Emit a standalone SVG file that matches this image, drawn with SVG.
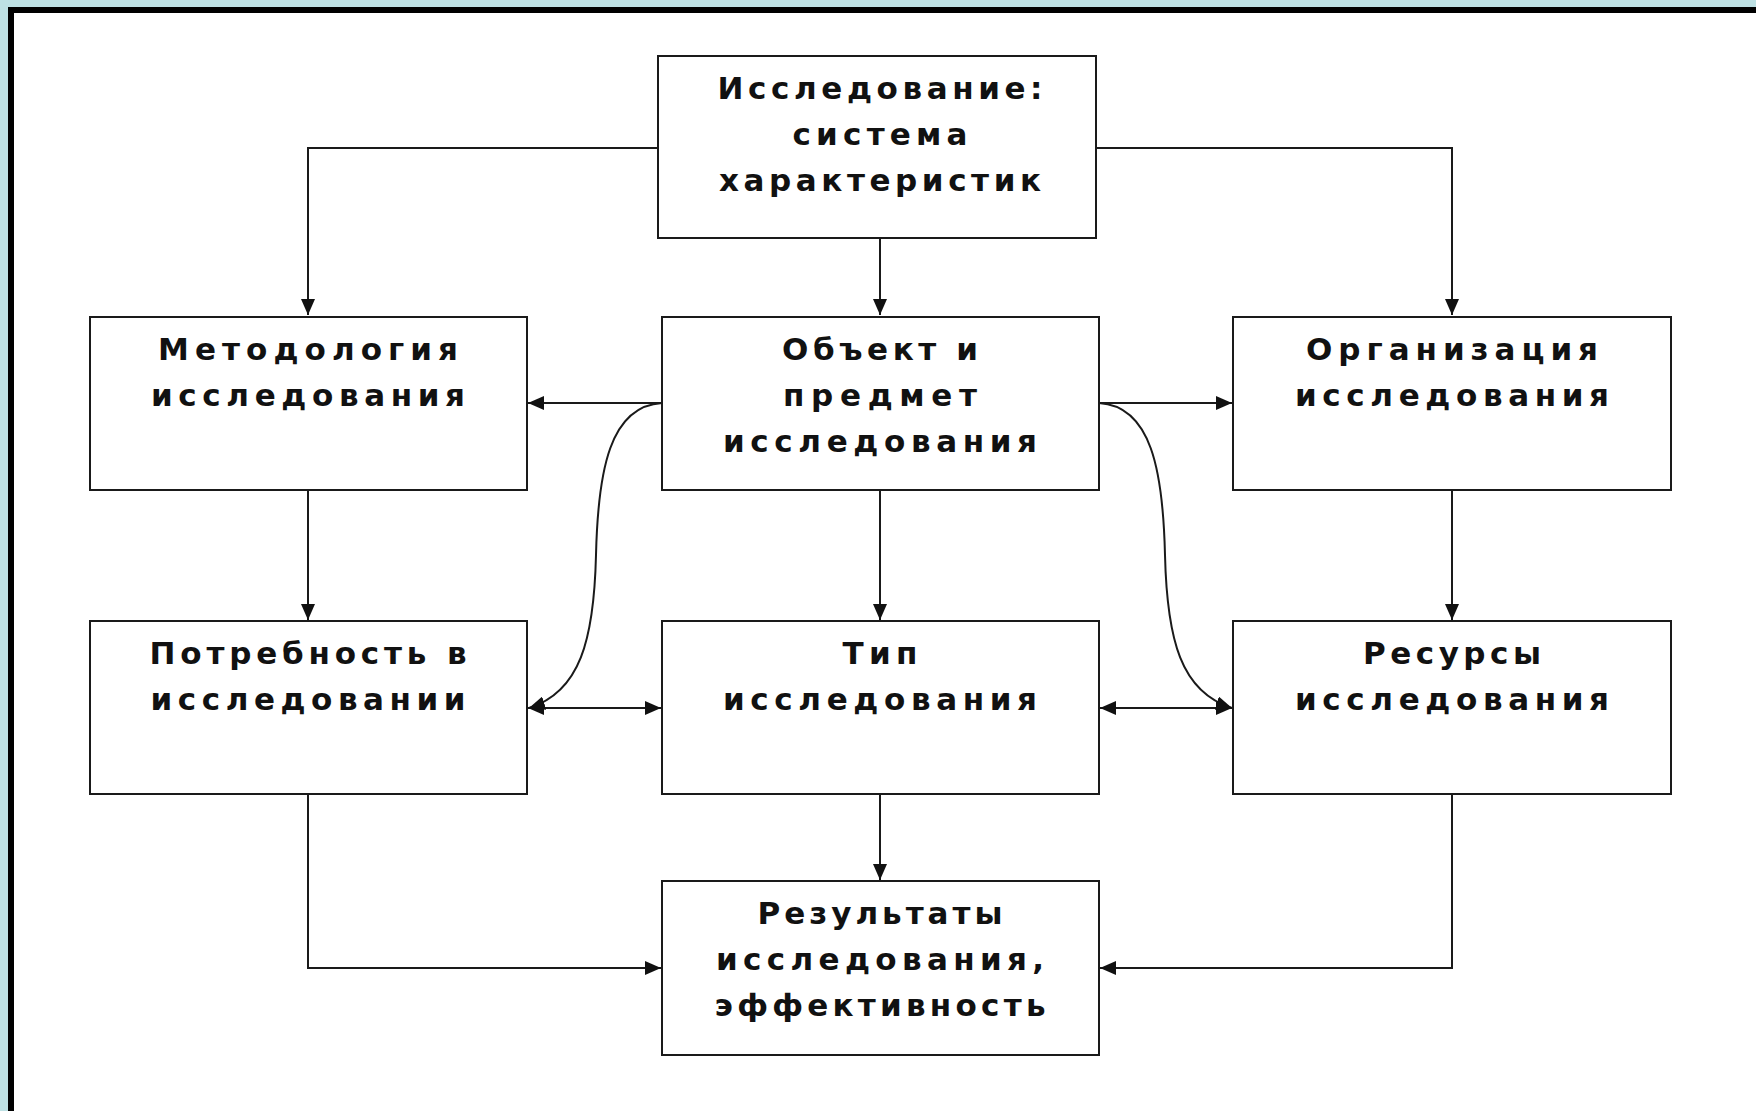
<svg xmlns="http://www.w3.org/2000/svg" width="1756" height="1111" viewBox="0 0 1756 1111">
<style>
.box{fill:#ffffff;stroke:#1a1a1a;stroke-width:2}
.lbl{font-family:"DejaVu Sans","Liberation Sans",sans-serif;font-weight:bold;font-size:31px;fill:#111;text-anchor:middle}
.con{fill:none;stroke:#1a1a1a;stroke-width:2}
</style>
<defs>
<marker id="ah" markerUnits="userSpaceOnUse" markerWidth="16" markerHeight="14" refX="16" refY="7" orient="auto-start-reverse">
<path d="M0,0 L16,7 L0,14 z" fill="#111"/>
</marker>
</defs>
<rect x="0" y="0" width="1756" height="1111" fill="#bde0e3"/>
<rect x="8" y="7" width="1748" height="1104" fill="#000"/>
<rect x="14" y="13" width="1742" height="1098" fill="#fff"/>

<g id="connectors">
<path class="con" d="M658,148 H308 V315" marker-end="url(#ah)"/>
<path class="con" d="M1096,148 H1452 V315" marker-end="url(#ah)"/>
<path class="con" d="M880,238 V315" marker-end="url(#ah)"/>
<path class="con" d="M662,403 H528" marker-end="url(#ah)"/>
<path class="con" d="M1099,403 H1232" marker-end="url(#ah)"/>
<path class="con" d="M880,490 V620" marker-end="url(#ah)"/>
<path class="con" d="M308,490 V620" marker-end="url(#ah)"/>
<path class="con" d="M1452,490 V620" marker-end="url(#ah)"/>
<path class="con" d="M528,708 H661" marker-start="url(#ah)" marker-end="url(#ah)"/>
<path class="con" d="M1100,708 H1232" marker-start="url(#ah)" marker-end="url(#ah)"/>
<path class="con" d="M662,403 C610,406 598,470 596,555 C594,640 580,692 529,708" marker-end="url(#ah)"/>
<path class="con" d="M1099,403 C1151,406 1163,470 1165,555 C1167,640 1181,692 1232,708" marker-end="url(#ah)"/>
<path class="con" d="M880,794 V880" marker-end="url(#ah)"/>
<path class="con" d="M308,794 V968 H661" marker-end="url(#ah)"/>
<path class="con" d="M1452,794 V968 H1100" marker-end="url(#ah)"/>
</g>

<g id="node-top">
<rect class="box" x="658" y="56" width="438" height="182"/>
<text class="lbl" x="880" y="99" textLength="325" lengthAdjust="spacing">Исследование:</text>
<text class="lbl" x="880" y="145" textLength="175" lengthAdjust="spacing">система</text>
<text class="lbl" x="880" y="191" textLength="322" lengthAdjust="spacing">характеристик</text>
</g>

<g id="node-method">
<rect class="box" x="90" y="317" width="437" height="173"/>
<text class="lbl" x="308" y="360" textLength="300" lengthAdjust="spacing">Методология</text>
<text class="lbl" x="308" y="406" textLength="314" lengthAdjust="spacing">исследования</text>
</g>

<g id="node-object">
<rect class="box" x="662" y="317" width="437" height="173"/>
<text class="lbl" x="880" y="360" textLength="196" lengthAdjust="spacing">Объект и</text>
<text class="lbl" x="880" y="406" textLength="194" lengthAdjust="spacing">предмет</text>
<text class="lbl" x="880" y="452" textLength="314" lengthAdjust="spacing">исследования</text>
</g>

<g id="node-org">
<rect class="box" x="1233" y="317" width="438" height="173"/>
<text class="lbl" x="1452" y="360" textLength="292" lengthAdjust="spacing">Организация</text>
<text class="lbl" x="1452" y="406" textLength="314" lengthAdjust="spacing">исследования</text>
</g>

<g id="node-need">
<rect class="box" x="90" y="621" width="437" height="173"/>
<text class="lbl" x="308" y="664" textLength="317" lengthAdjust="spacing">Потребность в</text>
<text class="lbl" x="308" y="710" textLength="315" lengthAdjust="spacing">исследовании</text>
</g>

<g id="node-type">
<rect class="box" x="662" y="621" width="437" height="173"/>
<text class="lbl" x="880" y="664" textLength="75" lengthAdjust="spacing">Тип</text>
<text class="lbl" x="880" y="710" textLength="314" lengthAdjust="spacing">исследования</text>
</g>

<g id="node-resources">
<rect class="box" x="1233" y="621" width="438" height="173"/>
<text class="lbl" x="1452" y="664" textLength="178" lengthAdjust="spacing">Ресурсы</text>
<text class="lbl" x="1452" y="710" textLength="314" lengthAdjust="spacing">исследования</text>
</g>

<g id="node-results">
<rect class="box" x="662" y="881" width="437" height="174"/>
<text class="lbl" x="880" y="924" textLength="245" lengthAdjust="spacing">Результаты</text>
<text class="lbl" x="880" y="970" textLength="328" lengthAdjust="spacing">исследования,</text>
<text class="lbl" x="880" y="1016" textLength="331" lengthAdjust="spacing">эффективность</text>
</g>
</svg>
